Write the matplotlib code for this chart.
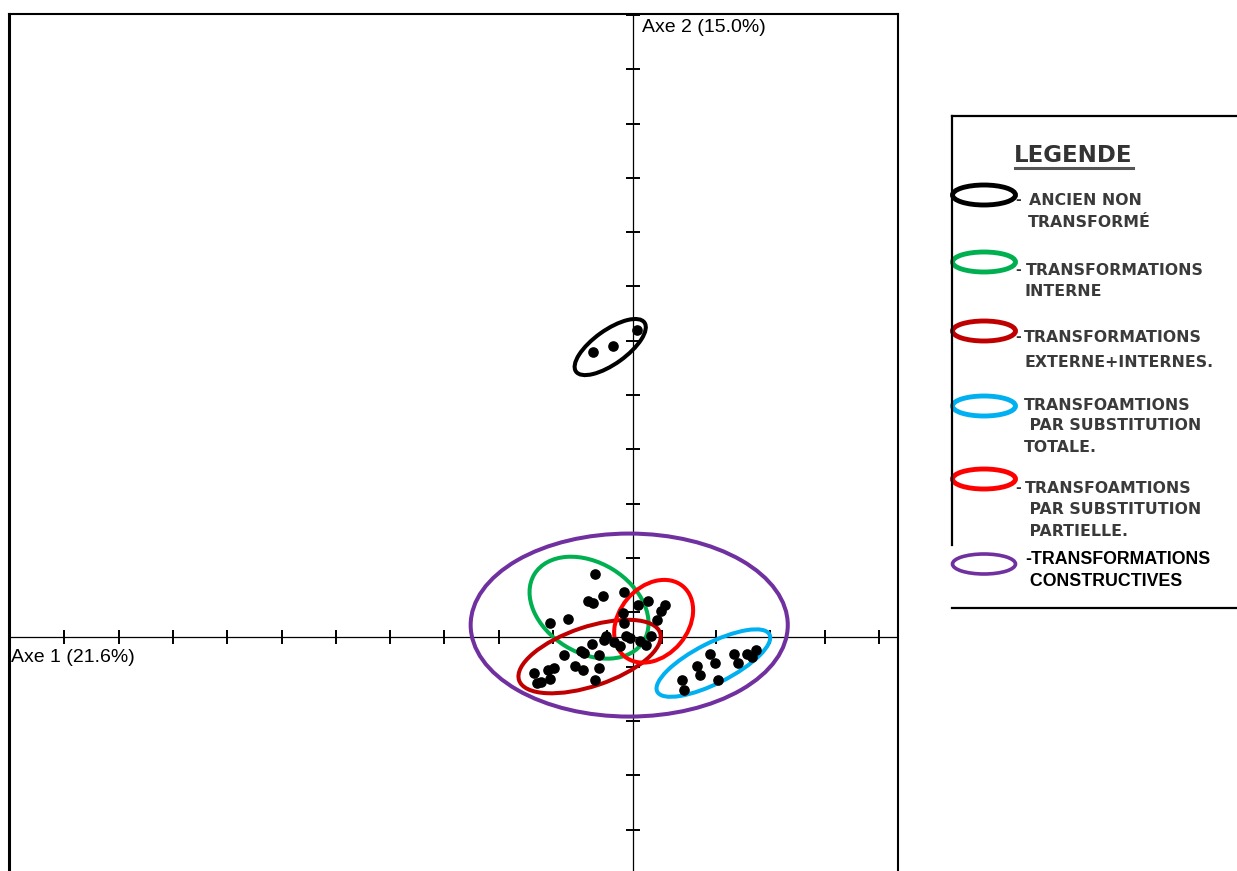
import matplotlib
matplotlib.use("Agg")
import matplotlib.pyplot as plt
import numpy as np
from matplotlib.patches import Ellipse

# individus (coordonnees factorielles)
pts_x = [-0.70, -0.56, -0.16, -0.83, -0.73, -1.53, -1.19, 0.09, 0.28, 0.58,
         0.52, 0.44, -0.18, -0.16, -0.50, -0.53, -0.13, -0.06, 0.34, 0.13,
         -0.35, -0.24, 0.24, -0.76, -0.96, -0.62, -0.90, -1.28, -1.07, -0.92,
         -0.62, -1.45, -1.56, -1.82, -1.53, -1.77, -1.69, -0.70,
         1.41, 1.17, 1.51, 1.23, 1.57, 0.90, 0.94, 1.86, 1.94, 2.09, 2.27, 2.19,
         -0.73, -0.36, 0.08]
pts_y = [1.16, 0.76, 0.82, 0.66, 0.62, 0.26, 0.33, 0.59, 0.66, 0.59,
         0.47, 0.31, 0.44, 0.25, 0.02, -0.06, 0.02, -0.02, 0.02, -0.07,
         -0.09, -0.17, -0.15, -0.13, -0.25, -0.33, -0.29, -0.33, -0.53, -0.61,
         -0.57, -0.57, -0.61, -0.67, -0.78, -0.84, -0.82, -0.80,
         -0.31, -0.53, -0.47, -0.70, -0.80, -0.80, -0.98, -0.31, -0.47, -0.31, -0.24, -0.36,
         5.25, 5.36, 5.65]

# ellipses des groupes
ell_cx = [-0.42, -0.81, -0.80, 1.48, 0.38, -0.07]
ell_cy = [5.34, 0.54, -0.36, -0.48, 0.29, 0.22]
ell_w = [1.55, 2.36, 2.74, 2.32, 1.68, 5.84]
ell_h = [0.62, 1.66, 1.09, 0.74, 1.27, 3.37]
ell_ang = [35.6, -31.5, 18.6, 27, 50, 0]
ell_col = ['#000000', '#00B050', '#C00000', '#00B0F0', '#FF0000', '#7030A0']

legend_lines = [
    ['ANCIEN NON', 'TRANSFORMÉ'],
    ['TRANSFORMATIONS', 'INTERNE'],
    ['TRANSFORMATIONS', 'EXTERNE+INTERNES.'],
    ['TRANSFOAMTIONS', ' PAR SUBSTITUTION', 'TOTALE.'],
    ['TRANSFOAMTIONS', ' PAR SUBSTITUTION', ' PARTIELLE.'],
    ['-TRANSFORMATIONS', ' CONSTRUCTIVES'],
]

xlab = 'Axe 1 (21.6%)'
ylab = 'Axe 2 (15.0%)'

fig = plt.figure(figsize=(12.37, 8.71), dpi=100)
ax = fig.add_axes([9 / 1237, 0, 889 / 1237, 857 / 871])
ax.set_xlim(-11.492, 4.880)
ax.set_ylim(-4.309, 11.473)
ax.set_xticks([])
ax.set_yticks([])
ax.spines['bottom'].set_visible(False)
ax.spines['left'].set_linewidth(2.2)
ax.spines['top'].set_linewidth(1.5)
ax.spines['right'].set_linewidth(1.5)

# axes factoriels
ax.axhline(0, color='black', lw=0.9, zorder=1)
ax.axvline(0, color='black', lw=0.9, zorder=1)
xt = -11.473 + np.arange(17)
yt = 11.455 - np.arange(16)
ax.plot(xt, np.zeros_like(xt), ls='none', marker='|', ms=9.5, mew=1.4, color='black', clip_on=False)
ax.plot(np.zeros_like(yt), yt, ls='none', marker='_', ms=9.5, mew=1.4, color='black', clip_on=False)

for cx, cy, w, h, a, c in zip(ell_cx, ell_cy, ell_w, ell_h, ell_ang, ell_col):
    ax.add_patch(Ellipse((cx, cy), w, h, angle=a, fill=False, ec=c, lw=2.9, zorder=3))

ax.scatter(pts_x, pts_y, s=44, color='black', zorder=4)

# calque en pixels pour textes et legende
ov = fig.add_axes([0, 0, 1, 1])
ov.set_xlim(0, 1237)
ov.set_ylim(871, 0)
ov.axis('off')

ov.text(11, 657, xlab, fontsize=14, family='Liberation Sans', va='center', ha='left')
ov.text(642, 27, ylab, fontsize=14, family='Liberation Sans', va='center', ha='left')

# cadre de la legende
ov.plot([952, 1237], [116, 116], color='black', lw=1.6)
ov.plot([952, 952], [116, 545], color='black', lw=1.6)
ov.plot([952, 1237], [608, 608], color='black', lw=1.6)

ov.text(1014, 155, 'LEGENDE', fontsize=16.5, weight='bold', color='#333333',
        family='DejaVu Sans', va='center', ha='left')
ov.plot([1015, 1133], [168, 168], color='#555555', lw=2.2)

sym_y = [195, 262, 331, 406, 479, 564]
line_y = [[200, 222], [270, 291], [337, 362], [405, 425, 447], [488, 509, 531], [559, 581]]
line_x = [[1029, 1028], [1026, 1025], [1024, 1025], [1024, 1024, 1024], [1025, 1024, 1024], [1025, 1025]]
dash = [True, True, True, False, True, False]

for i, (sy, lines, ys, xs, c) in enumerate(zip(sym_y, legend_lines, line_y, line_x, ell_col)):
    lw = 2.6 if i == 5 else 3.5
    ov.add_patch(Ellipse((984, sy), 63, 20, fill=False, ec=c, lw=lw))
    if dash[i]:
        ov.text(1015, ys[0], '-', fontsize=10, weight='bold', color='#333333', va='center', ha='left')
    for txt, x, y in zip(lines, xs, ys):
        if i == 5:
            ov.text(x, y, txt, fontsize=12.8, weight='bold', family='Liberation Sans',
                    color='black', va='center', ha='left')
        else:
            ov.text(x, y, txt, fontsize=11.3, weight='bold', family='DejaVu Sans',
                    color='#3a3a3a', va='center', ha='left')

fig.savefig('out.png', dpi=100)
